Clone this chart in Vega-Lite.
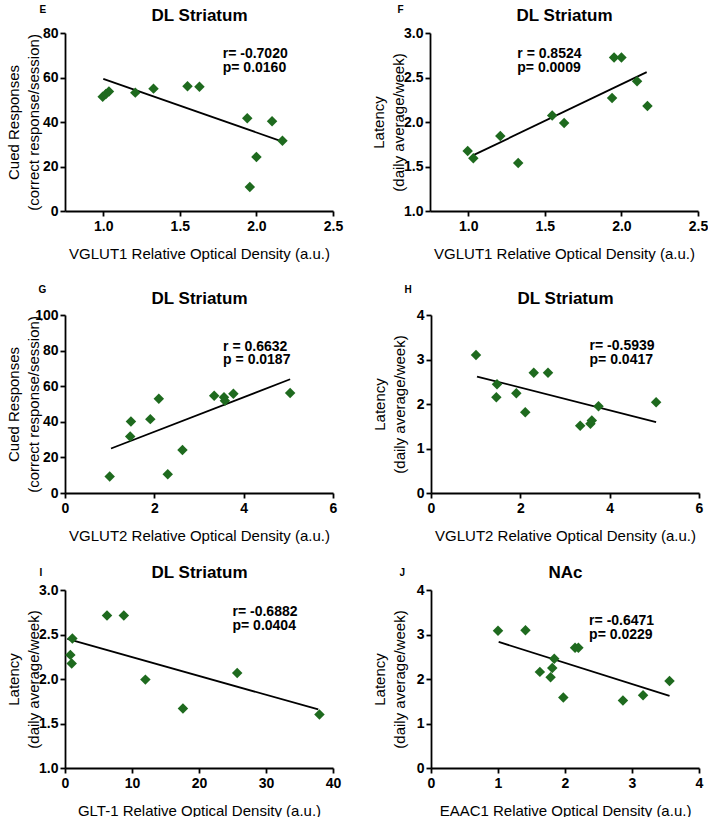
{
  "$schema": "https://vega.github.io/schema/vega-lite/v6.json",
  "padding": {"left": 5, "top": 4, "right": 0, "bottom": 0},
  "background": "white",
  "datasets": {
    "pts": [
      {"panel": "E", "x": 0.996, "y": 51.4}, {"panel": "E", "x": 1.017, "y": 52.6}, {"panel": "E", "x": 1.037, "y": 53.7},
      {"panel": "E", "x": 1.209, "y": 53.2}, {"panel": "E", "x": 1.328, "y": 55.0}, {"panel": "E", "x": 1.55, "y": 56.1},
      {"panel": "E", "x": 1.628, "y": 55.8}, {"panel": "E", "x": 1.94, "y": 41.7}, {"panel": "E", "x": 1.957, "y": 10.8},
      {"panel": "E", "x": 2.0, "y": 24.3}, {"panel": "E", "x": 2.102, "y": 40.3}, {"panel": "E", "x": 2.17, "y": 31.6},
      {"panel": "F", "x": 0.996, "y": 1.675}, {"panel": "F", "x": 1.033, "y": 1.592}, {"panel": "F", "x": 1.209, "y": 1.844},
      {"panel": "F", "x": 1.326, "y": 1.54}, {"panel": "F", "x": 1.548, "y": 2.072}, {"panel": "F", "x": 1.626, "y": 1.99},
      {"panel": "F", "x": 1.939, "y": 2.271}, {"panel": "F", "x": 1.952, "y": 2.725}, {"panel": "F", "x": 2.0, "y": 2.725},
      {"panel": "F", "x": 2.102, "y": 2.459}, {"panel": "F", "x": 2.17, "y": 2.181},
      {"panel": "G", "x": 1.0, "y": 9.3}, {"panel": "G", "x": 1.46, "y": 31.7}, {"panel": "G", "x": 1.476, "y": 40.2},
      {"panel": "G", "x": 1.91, "y": 41.5}, {"panel": "G", "x": 2.1, "y": 52.9}, {"panel": "G", "x": 2.3, "y": 10.6},
      {"panel": "G", "x": 2.63, "y": 24.2}, {"panel": "G", "x": 3.34, "y": 54.7}, {"panel": "G", "x": 3.56, "y": 53.8},
      {"panel": "G", "x": 3.58, "y": 51.8}, {"panel": "G", "x": 3.77, "y": 55.7}, {"panel": "G", "x": 5.04, "y": 56.2},
      {"panel": "H", "x": 1.007, "y": 3.10}, {"panel": "H", "x": 1.478, "y": 2.445}, {"panel": "H", "x": 1.463, "y": 2.153},
      {"panel": "H", "x": 1.91, "y": 2.243}, {"panel": "H", "x": 2.11, "y": 1.817}, {"panel": "H", "x": 2.3, "y": 2.70},
      {"panel": "H", "x": 2.62, "y": 2.70}, {"panel": "H", "x": 3.34, "y": 1.51}, {"panel": "H", "x": 3.57, "y": 1.555},
      {"panel": "H", "x": 3.6, "y": 1.63}, {"panel": "H", "x": 3.75, "y": 1.95}, {"panel": "H", "x": 5.04, "y": 2.04},
      {"panel": "I", "x": 6.27, "y": 2.714}, {"panel": "I", "x": 8.78, "y": 2.714}, {"panel": "I", "x": 1.1, "y": 2.454},
      {"panel": "I", "x": 0.8, "y": 2.271}, {"panel": "I", "x": 1.0, "y": 2.175}, {"panel": "I", "x": 12.0, "y": 1.993},
      {"panel": "I", "x": 17.6, "y": 1.669}, {"panel": "I", "x": 25.7, "y": 2.067}, {"panel": "I", "x": 37.98, "y": 1.602},
      {"panel": "J", "x": 1.0, "y": 3.086}, {"panel": "J", "x": 1.41, "y": 3.093}, {"panel": "J", "x": 1.625, "y": 2.16},
      {"panel": "J", "x": 1.785, "y": 2.037}, {"panel": "J", "x": 1.81, "y": 2.245}, {"panel": "J", "x": 1.84, "y": 2.453},
      {"panel": "J", "x": 1.975, "y": 1.584}, {"panel": "J", "x": 2.15, "y": 2.70}, {"panel": "J", "x": 2.2, "y": 2.70},
      {"panel": "J", "x": 2.865, "y": 1.517}, {"panel": "J", "x": 3.165, "y": 1.636}, {"panel": "J", "x": 3.56, "y": 1.955}
    ],
    "fits": [
      {"panel": "E", "x": 1.0, "y": 59.4}, {"panel": "E", "x": 2.17, "y": 31.2},
      {"panel": "F", "x": 1.037, "y": 1.63}, {"panel": "F", "x": 2.165, "y": 2.56},
      {"panel": "G", "x": 1.03, "y": 25.0}, {"panel": "G", "x": 5.04, "y": 63.9},
      {"panel": "H", "x": 1.03, "y": 2.617}, {"panel": "H", "x": 5.04, "y": 1.593},
      {"panel": "I", "x": 0.35, "y": 2.45}, {"panel": "I", "x": 37.8, "y": 1.658},
      {"panel": "J", "x": 1.01, "y": 2.833}, {"panel": "J", "x": 3.56, "y": 1.621}
    ],
    "notes": [
      {"panel": "E", "x": 1.78, "y": 70.6, "label": "r= -0.7020"}, {"panel": "E", "x": 1.78, "y": 64.2, "label": "p=  0.0160"},
      {"panel": "F", "x": 1.32, "y": 2.764, "label": "r = 0.8524"}, {"panel": "F", "x": 1.32, "y": 2.606, "label": "p= 0.0009"},
      {"panel": "G", "x": 3.54, "y": 82.3, "label": "r = 0.6632"}, {"panel": "G", "x": 3.54, "y": 74.9, "label": "p = 0.0187"},
      {"panel": "H", "x": 3.55, "y": 3.30, "label": "r= -0.5939"}, {"panel": "H", "x": 3.55, "y": 2.99, "label": "p=  0.0417"},
      {"panel": "I", "x": 25.0, "y": 2.758, "label": "r= -0.6882"}, {"panel": "I", "x": 25.0, "y": 2.598, "label": "p=  0.0404"},
      {"panel": "J", "x": 2.36, "y": 3.31, "label": "r= -0.6471"}, {"panel": "J", "x": 2.36, "y": 2.98, "label": "p=  0.0229"}
    ]
  },
  "spacing": 23,
  "vconcat": [
    {
      "spacing": 28,
      "hconcat": [
        {
          "width": 268, "height": 178,
          "resolve": {"axis": {"x": "independent"}},
          "encoding": {
            "x": {"field": "x", "type": "quantitative", "scale": {"domain": [0.75, 2.5], "nice": false, "zero": false}, "axis": {"values": [1, 1.5, 2, 2.5], "format": ".1f", "title": "VGLUT1 Relative Optical Density (a.u.)"}},
            "y": {"field": "y", "type": "quantitative", "scale": {"domain": [0, 80], "nice": false}, "axis": {"values": [0, 20, 40, 60, 80], "title": ["Cued Responses", "(correct response/session)"]}}
          },
          "layer": [
            {"data": {"name": "fits"}, "transform": [{"filter": "datum.panel === 'E'"}], "mark": {"type": "line", "color": "black", "strokeWidth": 1.8}, "encoding": {}},
            {"data": {"name": "pts"}, "transform": [{"filter": "datum.panel === 'E'"}], "mark": {"type": "point", "shape": "diamond", "filled": true, "opacity": 1, "color": "#1e6a1e", "size": 110},
             "encoding": {"x": {"field": "x", "type": "quantitative", "scale": {"domain": [0.75, 2.5], "nice": false, "zero": false}, "axis": {"orient": "top", "title": "DL Striatum", "domain": false, "ticks": false, "labels": false, "titleX": 134, "titleY": -18, "titleAlign": "center", "titleFontSize": 17}}}},
            {"data": {"name": "notes"}, "transform": [{"filter": "datum.panel === 'E'"}], "mark": {"type": "text", "align": "left", "baseline": "middle", "fontSize": 14, "fontWeight": "bold", "color": "black"},
             "encoding": {"text": {"field": "label"}, "x": {"field": "x", "type": "quantitative", "scale": {"domain": [0.75, 2.5], "nice": false, "zero": false}, "axis": {"orient": "top", "title": "E", "domain": false, "ticks": false, "labels": false, "titleX": -26, "titleY": -24, "titleAlign": "left", "titleFontSize": 10}}}}
          ]
        },
        {
          "width": 268, "height": 178,
          "resolve": {"axis": {"x": "independent"}},
          "encoding": {
            "x": {"field": "x", "type": "quantitative", "scale": {"domain": [0.75, 2.5], "nice": false, "zero": false}, "axis": {"values": [1, 1.5, 2, 2.5], "format": ".1f", "title": "VGLUT1 Relative Optical Density (a.u.)"}},
            "y": {"field": "y", "type": "quantitative", "scale": {"domain": [1, 3], "nice": false, "zero": false}, "axis": {"values": [1, 1.5, 2, 2.5, 3], "format": ".1f", "title": ["Latency", "(daily average/week)"]}}
          },
          "layer": [
            {"data": {"name": "fits"}, "transform": [{"filter": "datum.panel === 'F'"}], "mark": {"type": "line", "color": "black", "strokeWidth": 1.8}, "encoding": {}},
            {"data": {"name": "pts"}, "transform": [{"filter": "datum.panel === 'F'"}], "mark": {"type": "point", "shape": "diamond", "filled": true, "opacity": 1, "color": "#1e6a1e", "size": 110},
             "encoding": {"x": {"field": "x", "type": "quantitative", "scale": {"domain": [0.75, 2.5], "nice": false, "zero": false}, "axis": {"orient": "top", "title": "DL Striatum", "domain": false, "ticks": false, "labels": false, "titleX": 134, "titleY": -18, "titleAlign": "center", "titleFontSize": 17}}}},
            {"data": {"name": "notes"}, "transform": [{"filter": "datum.panel === 'F'"}], "mark": {"type": "text", "align": "left", "baseline": "middle", "fontSize": 14, "fontWeight": "bold", "color": "black"},
             "encoding": {"text": {"field": "label"}, "x": {"field": "x", "type": "quantitative", "scale": {"domain": [0.75, 2.5], "nice": false, "zero": false}, "axis": {"orient": "top", "title": "F", "domain": false, "ticks": false, "labels": false, "titleX": -33, "titleY": -24, "titleAlign": "left", "titleFontSize": 10}}}}
          ]
        }
      ]
    },
    {
      "spacing": 20,
      "vconcat": [
        {
          "spacing": 35,
          "hconcat": [
            {
              "width": 268, "height": 178,
              "resolve": {"axis": {"x": "independent"}},
              "encoding": {
                "x": {"field": "x", "type": "quantitative", "scale": {"domain": [0, 6], "nice": false}, "axis": {"values": [0, 2, 4, 6], "title": "VGLUT2 Relative Optical Density (a.u.)"}},
                "y": {"field": "y", "type": "quantitative", "scale": {"domain": [0, 100], "nice": false}, "axis": {"values": [0, 20, 40, 60, 80, 100], "title": ["Cued Responses", "(correct response/session)"]}}
              },
              "layer": [
                {"data": {"name": "fits"}, "transform": [{"filter": "datum.panel === 'G'"}], "mark": {"type": "line", "color": "black", "strokeWidth": 1.8}, "encoding": {}},
                {"data": {"name": "pts"}, "transform": [{"filter": "datum.panel === 'G'"}], "mark": {"type": "point", "shape": "diamond", "filled": true, "opacity": 1, "color": "#1e6a1e", "size": 110},
                 "encoding": {"x": {"field": "x", "type": "quantitative", "scale": {"domain": [0, 6], "nice": false}, "axis": {"orient": "top", "title": "DL Striatum", "domain": false, "ticks": false, "labels": false, "titleX": 134, "titleY": -17, "titleAlign": "center", "titleFontSize": 17}}}},
                {"data": {"name": "notes"}, "transform": [{"filter": "datum.panel === 'G'"}], "mark": {"type": "text", "align": "left", "baseline": "middle", "fontSize": 14, "fontWeight": "bold", "color": "black"},
                 "encoding": {"text": {"field": "label"}, "x": {"field": "x", "type": "quantitative", "scale": {"domain": [0, 6], "nice": false}, "axis": {"orient": "top", "title": "G", "domain": false, "ticks": false, "labels": false, "titleX": -27, "titleY": -26, "titleAlign": "left", "titleFontSize": 10}}}}
              ]
            },
            {
              "width": 268, "height": 178,
              "resolve": {"axis": {"x": "independent"}},
              "encoding": {
                "x": {"field": "x", "type": "quantitative", "scale": {"domain": [0, 6], "nice": false}, "axis": {"values": [0, 2, 4, 6], "title": "VGLUT2 Relative Optical Density (a.u.)"}},
                "y": {"field": "y", "type": "quantitative", "scale": {"domain": [0, 4], "nice": false}, "axis": {"values": [0, 1, 2, 3, 4], "title": ["Latency", "(daily average/week)"]}}
              },
              "layer": [
                {"data": {"name": "fits"}, "transform": [{"filter": "datum.panel === 'H'"}], "mark": {"type": "line", "color": "black", "strokeWidth": 1.8}, "encoding": {}},
                {"data": {"name": "pts"}, "transform": [{"filter": "datum.panel === 'H'"}], "mark": {"type": "point", "shape": "diamond", "filled": true, "opacity": 1, "color": "#1e6a1e", "size": 110},
                 "encoding": {"x": {"field": "x", "type": "quantitative", "scale": {"domain": [0, 6], "nice": false}, "axis": {"orient": "top", "title": "DL Striatum", "domain": false, "ticks": false, "labels": false, "titleX": 134, "titleY": -17, "titleAlign": "center", "titleFontSize": 17}}}},
                {"data": {"name": "notes"}, "transform": [{"filter": "datum.panel === 'H'"}], "mark": {"type": "text", "align": "left", "baseline": "middle", "fontSize": 14, "fontWeight": "bold", "color": "black"},
                 "encoding": {"text": {"field": "label"}, "x": {"field": "x", "type": "quantitative", "scale": {"domain": [0, 6], "nice": false}, "axis": {"orient": "top", "title": "H", "domain": false, "ticks": false, "labels": false, "titleX": -27, "titleY": -26, "titleAlign": "left", "titleFontSize": 10}}}}
              ]
            }
          ]
        },
        {
          "spacing": 31,
          "hconcat": [
            {
              "width": 268, "height": 178,
              "resolve": {"axis": {"x": "independent"}},
              "encoding": {
                "x": {"field": "x", "type": "quantitative", "scale": {"domain": [0, 40], "nice": false}, "axis": {"values": [0, 10, 20, 30, 40], "title": "GLT-1 Relative Optical Density (a.u.)"}},
                "y": {"field": "y", "type": "quantitative", "scale": {"domain": [1, 3], "nice": false, "zero": false}, "axis": {"values": [1, 1.5, 2, 2.5, 3], "format": ".1f", "title": ["Latency", "(daily average/week)"]}}
              },
              "layer": [
                {"data": {"name": "fits"}, "transform": [{"filter": "datum.panel === 'I'"}], "mark": {"type": "line", "color": "black", "strokeWidth": 1.8}, "encoding": {}},
                {"data": {"name": "pts"}, "transform": [{"filter": "datum.panel === 'I'"}], "mark": {"type": "point", "shape": "diamond", "filled": true, "opacity": 1, "color": "#1e6a1e", "size": 110},
                 "encoding": {"x": {"field": "x", "type": "quantitative", "scale": {"domain": [0, 40], "nice": false}, "axis": {"orient": "top", "title": "DL Striatum", "domain": false, "ticks": false, "labels": false, "titleX": 134, "titleY": -18, "titleAlign": "center", "titleFontSize": 17}}}},
                {"data": {"name": "notes"}, "transform": [{"filter": "datum.panel === 'I'"}], "mark": {"type": "text", "align": "left", "baseline": "middle", "fontSize": 14, "fontWeight": "bold", "color": "black"},
                 "encoding": {"text": {"field": "label"}, "x": {"field": "x", "type": "quantitative", "scale": {"domain": [0, 40], "nice": false}, "axis": {"orient": "top", "title": "I", "domain": false, "ticks": false, "labels": false, "titleX": -26, "titleY": -18, "titleAlign": "left", "titleFontSize": 10}}}}
              ]
            },
            {
              "width": 268, "height": 178,
              "resolve": {"axis": {"x": "independent"}},
              "encoding": {
                "x": {"field": "x", "type": "quantitative", "scale": {"domain": [0, 4], "nice": false}, "axis": {"values": [0, 1, 2, 3, 4], "title": "EAAC1 Relative Optical Density (a.u.)"}},
                "y": {"field": "y", "type": "quantitative", "scale": {"domain": [0, 4], "nice": false}, "axis": {"values": [0, 1, 2, 3, 4], "title": ["Latency", "(daily average/week)"]}}
              },
              "layer": [
                {"data": {"name": "fits"}, "transform": [{"filter": "datum.panel === 'J'"}], "mark": {"type": "line", "color": "black", "strokeWidth": 1.8}, "encoding": {}},
                {"data": {"name": "pts"}, "transform": [{"filter": "datum.panel === 'J'"}], "mark": {"type": "point", "shape": "diamond", "filled": true, "opacity": 1, "color": "#1e6a1e", "size": 110},
                 "encoding": {"x": {"field": "x", "type": "quantitative", "scale": {"domain": [0, 4], "nice": false}, "axis": {"orient": "top", "title": "NAc", "domain": false, "ticks": false, "labels": false, "titleX": 134, "titleY": -18, "titleAlign": "center", "titleFontSize": 17}}}},
                {"data": {"name": "notes"}, "transform": [{"filter": "datum.panel === 'J'"}], "mark": {"type": "text", "align": "left", "baseline": "middle", "fontSize": 14, "fontWeight": "bold", "color": "black"},
                 "encoding": {"text": {"field": "label"}, "x": {"field": "x", "type": "quantitative", "scale": {"domain": [0, 4], "nice": false}, "axis": {"orient": "top", "title": "J", "domain": false, "ticks": false, "labels": false, "titleX": -32, "titleY": -18, "titleAlign": "left", "titleFontSize": 10}}}}
              ]
            }
          ]
        }
      ]
    }
  ],
  "config": {
    "font": "Liberation Sans",
    "view": {"stroke": null},
    "axis": {
      "grid": false, "domainColor": "black", "domainWidth": 1.8, "tickColor": "black", "tickWidth": 1.8, "tickSize": 5,
      "labelColor": "black", "labelFont": "Liberation Sans", "labelFontSize": 14, "labelFontWeight": "bold", "labelFlush": false,
      "titleColor": "black", "titleFont": "Liberation Sans", "titleFontSize": 15, "titleFontWeight": "normal"
    },
    "axisX": {"labelPadding": 3, "titlePadding": 13},
    "axisTop": {"titleFontWeight": "bold", "titleBaseline": "middle", "titleAngle": 0},
    "axisY": {"labelPadding": 2, "titleX": -44, "titleBaseline": "bottom", "titleLineHeight": 20}
  }
}
